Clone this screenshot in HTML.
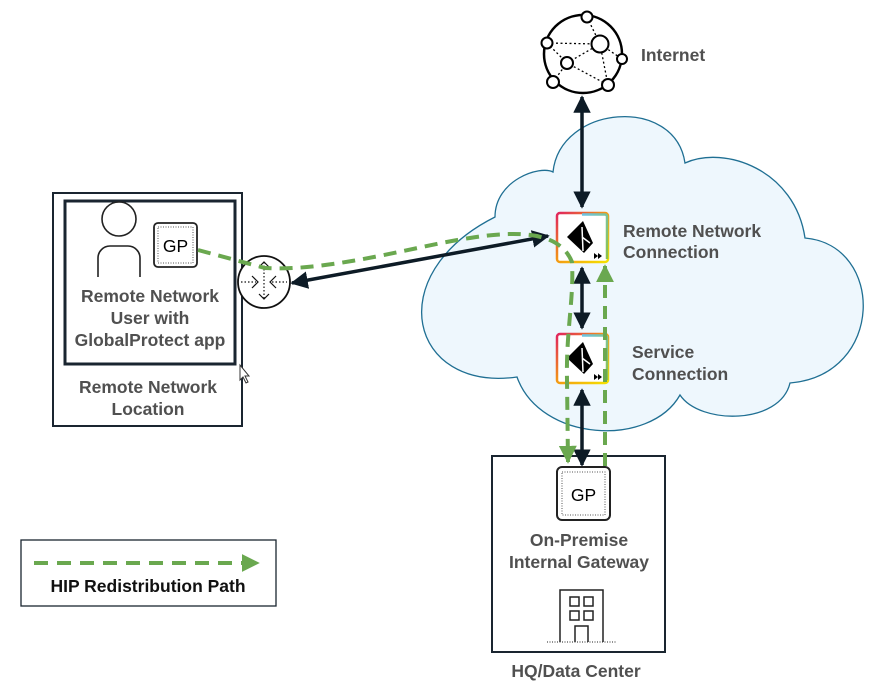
<!DOCTYPE html>
<html><head><meta charset="utf-8"><style>
body{margin:0;background:#fff;width:878px;height:694px;overflow:hidden}
text{font-family:"Liberation Sans",Arial,sans-serif;font-weight:bold;font-size:17.5px;fill:#505050}
</style></head><body>
<svg width="878" height="694" viewBox="0 0 878 694" xmlns="http://www.w3.org/2000/svg">
<defs>
<marker id="ab" viewBox="0 0 10 10" refX="9" refY="5" markerWidth="5" markerHeight="5" orient="auto-start-reverse"><path d="M0,0 L10,5 L0,10 z" fill="#0d1b26"/></marker>
<marker id="ag" viewBox="0 0 10 10" refX="9" refY="5" markerWidth="4.5" markerHeight="4.5" orient="auto"><path d="M0,0 L10,5 L0,10 z" fill="#6aa84f"/></marker>
<linearGradient id="gr" x1="0" y1="0" x2="1" y2="1"><stop offset="0" stop-color="#e0245e"/><stop offset="0.5" stop-color="#f39c12"/><stop offset="1" stop-color="#f5e100"/></linearGradient>
<linearGradient id="gr2" x1="0" y1="0" x2="1" y2="1"><stop offset="0" stop-color="#6cc3e8"/><stop offset="1" stop-color="#8bc34a"/></linearGradient>
<g id="pa">
<rect x="0" y="0" width="51" height="49" rx="3" fill="#fff" stroke="url(#gr)" stroke-width="2.5"/>
<path d="M25,1.5 H48 a2,2 0 0 1 2,2 V46" fill="none" stroke="url(#gr2)" stroke-width="2.5"/>
<path d="M10,24 L26,8 L36,30 L27,40 Z" fill="#000"/>
<path d="M25,14 L26,38 M25,24 L33,30" stroke="#fff" stroke-width="1.5"/>
<path d="M37,40 l4,3 l-4,3z M41,40 l4,3 l-4,3z" fill="#000"/>
</g>
</defs>

<!-- cloud -->
<path d="M553,172 C560,105 675,95 685,163 C725,145 795,170 805,238 C885,245 885,375 790,383 C780,425 700,425 680,395 C650,448 540,442 517,377 C410,392 380,275 495,217 C495,180 540,165 553,172 Z" fill="#eef7fd" stroke="#1f6f93" stroke-width="1.3"/>

<!-- internet globe -->
<g stroke="#000" fill="none">
<circle cx="583" cy="54" r="39" stroke-width="2.5"/>
<g stroke-width="1.3" stroke-dasharray="2,2.5">
<path d="M547,43 L600,44 L622,59 M547,43 L567,63 L608,85 M600,44 L567,63 M553,82 L567,63 M587,17 L600,44 M600,44 L608,85"/>
</g>
<g fill="#fff" stroke-width="2">
<circle cx="587" cy="17" r="5.5"/><circle cx="547" cy="43" r="5.5"/><circle cx="600" cy="44" r="8.5"/><circle cx="622" cy="59" r="5"/><circle cx="567" cy="63" r="6"/><circle cx="553" cy="82" r="6"/><circle cx="608" cy="85" r="6"/>
</g></g>
<text x="641" y="61" font-size="20">Internet</text>

<!-- left boxes -->
<rect x="53" y="193" width="189" height="233" fill="#fff" stroke="#1a2530" stroke-width="2"/>
<rect x="65" y="201" width="170" height="163" fill="#fff" stroke="#1a2530" stroke-width="3"/>
<circle cx="119" cy="219" r="17" fill="none" stroke="#222" stroke-width="1.6"/>
<path d="M98,277 V258 a12,12 0 0 1 12,-12 H128 a12,12 0 0 1 12,12 V277" fill="none" stroke="#222" stroke-width="1.6"/>
<rect x="154" y="223" width="43" height="44" rx="4" fill="#fff" stroke="#222" stroke-width="1.8"/>
<rect x="158" y="227" width="35" height="36" fill="none" stroke="#555" stroke-width="1" stroke-dasharray="1,1.5"/>
<text x="175.5" y="252" text-anchor="middle" font-size="18" style="font-weight:normal;fill:#000">GP</text>
<text x="150" y="302" text-anchor="middle">Remote Network</text>
<text x="150" y="324" text-anchor="middle">User with</text>
<text x="150" y="346" text-anchor="middle">GlobalProtect app</text>
<text x="148" y="393" text-anchor="middle">Remote Network</text>
<text x="148" y="415" text-anchor="middle">Location</text>

<!-- router -->
<circle cx="264" cy="282" r="26" fill="#fff" stroke="#111" stroke-width="1.8"/>
<g stroke="#111" stroke-width="1.2" fill="none">
<path d="M241,282 H256 M272,282 H287 M264,262 V300" stroke-dasharray="1.5,2"/>
<path d="M252,276 l6,6 l-6,6 M276,276 l-6,6 l6,6 M259,267 l5,-5 l5,5 M259,294 l5,5 l5,-5"/>
</g>

<!-- HQ box -->
<rect x="492" y="456" width="173" height="196" fill="#fff" stroke="#1a2530" stroke-width="2"/>
<rect x="557" y="467" width="53" height="53" rx="5" fill="#fff" stroke="#222" stroke-width="2"/>
<rect x="562" y="472" width="43" height="43" fill="none" stroke="#555" stroke-width="1" stroke-dasharray="1,1.5"/>
<text x="583.5" y="501" text-anchor="middle" style="font-weight:normal;fill:#000" font-size="20">GP</text>
<text x="579" y="546" text-anchor="middle">On-Premise</text>
<text x="579" y="568" text-anchor="middle">Internal Gateway</text>
<g fill="none" stroke="#222" stroke-width="1.5">
<path d="M560,642 V590 H603 V642"/>
<rect x="570" y="597" width="9" height="9"/><rect x="584" y="597" width="9" height="9"/>
<rect x="570" y="611" width="9" height="9"/><rect x="584" y="611" width="9" height="9"/>
<path d="M575,642 V626 H588 V642"/>
<path d="M547,642 H616" stroke-dasharray="1,1.5" stroke-width="1"/>
</g>
<text x="576" y="677" text-anchor="middle">HQ/Data Center</text>

<!-- PA icons -->
<use href="#pa" x="557" y="213"/>
<use href="#pa" x="557" y="334"/>
<text x="623" y="237">Remote Network</text>
<text x="623" y="258">Connection</text>
<text x="632" y="358">Service</text>
<text x="632" y="380">Connection</text>

<!-- black arrows -->
<g stroke="#0d1b26" stroke-width="3.5" fill="none">
<line x1="582" y1="97" x2="582" y2="207" marker-start="url(#ab)" marker-end="url(#ab)"/>
<line x1="582" y1="268" x2="582" y2="328" marker-start="url(#ab)" marker-end="url(#ab)"/>
<line x1="582" y1="390" x2="582" y2="465" marker-start="url(#ab)" marker-end="url(#ab)"/>
<line x1="548" y1="236" x2="292" y2="283" marker-start="url(#ab)" marker-end="url(#ab)"/>
</g>

<!-- green dashed -->
<g stroke="#6aa84f" stroke-width="4" fill="none" stroke-dasharray="13,8">
<path d="M198,250 L265,268 C330,272 420,245 470,238 C520,230 560,232 572,262 C574,300 566,330 567,380 L568,462" marker-end="url(#ag)"/>
<path d="M605,466 L605,266" marker-end="url(#ag)"/>
</g>

<!-- legend -->
<rect x="21" y="540" width="255" height="66" fill="#fff" stroke="#1a2530" stroke-width="1.3"/>
<line x1="34" y1="563" x2="258" y2="563" stroke="#6aa84f" stroke-width="4" stroke-dasharray="14,9" marker-end="url(#ag)"/>
<text x="148" y="592" text-anchor="middle" style="fill:#111" font-size="16">HIP Redistribution Path</text>

<!-- cursor -->
<path d="M240,365 V380 l3,-3 l3,6 l2,-1 l-3,-6 h4 Z" fill="#fff" stroke="#333" stroke-width="1"/>
</svg>
</body></html>
